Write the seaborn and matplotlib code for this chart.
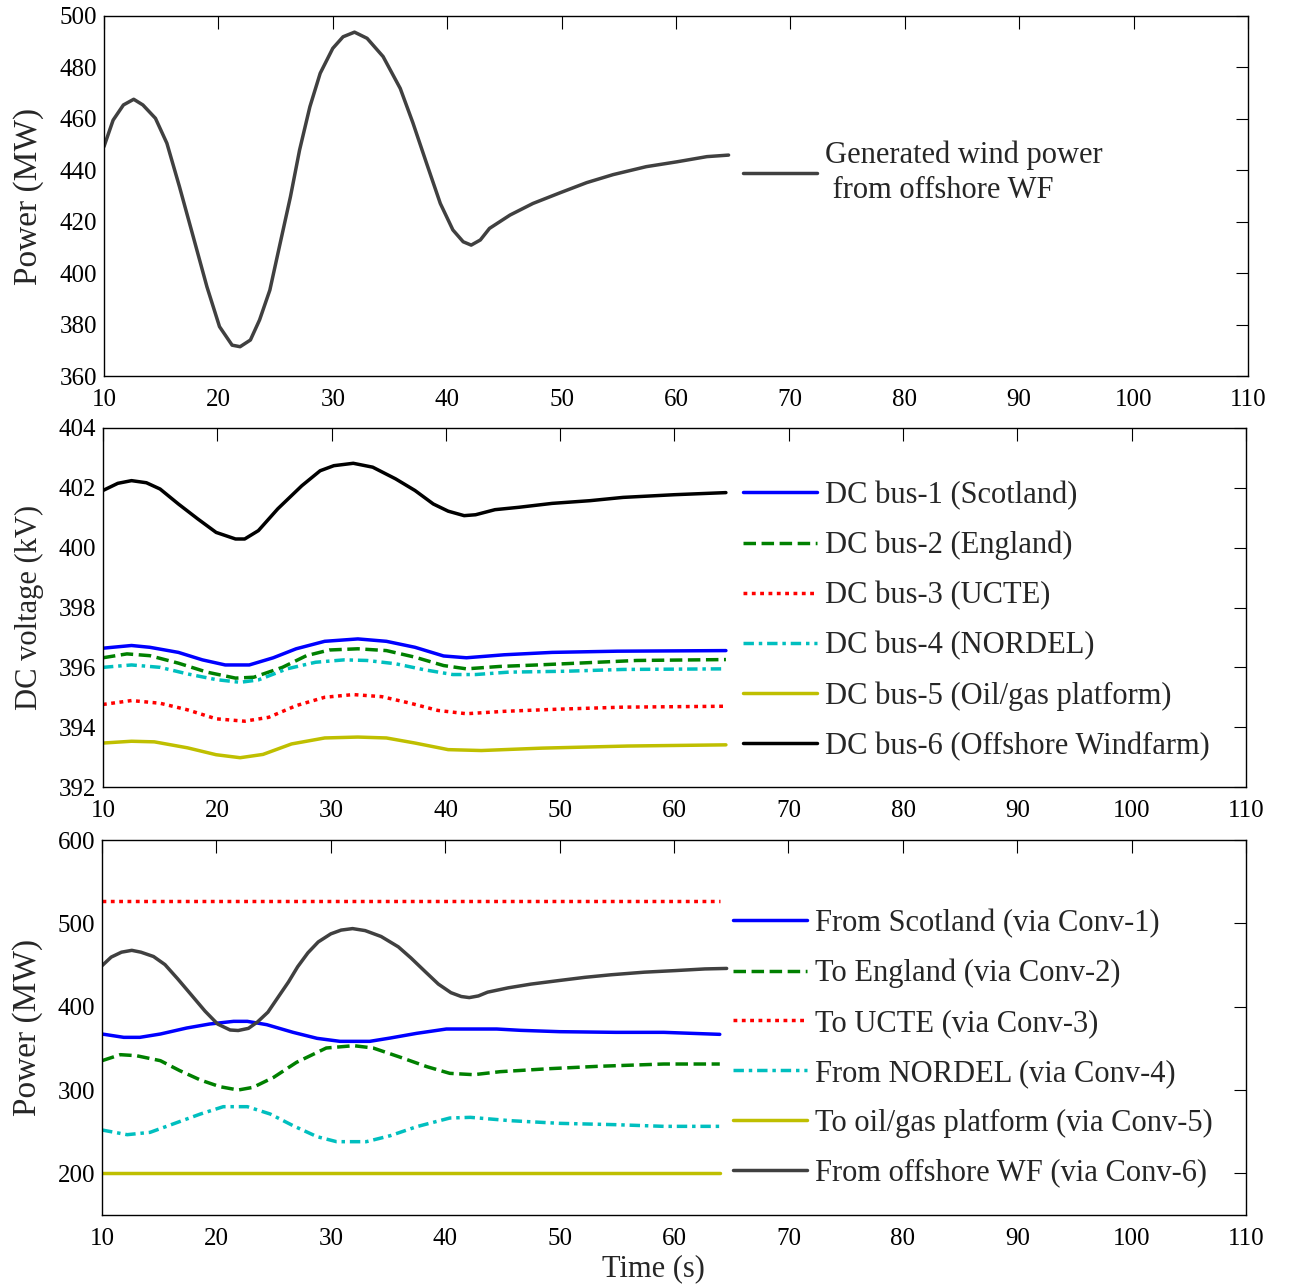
import matplotlib
matplotlib.use("Agg")
import matplotlib.pyplot as plt
import seaborn as sns

# ---------------- generated wind power from offshore WF (MW) ----------------
t_wind = [10.0, 10.8, 11.7, 12.6, 13.4, 14.5, 15.5, 16.6, 17.8, 19.0, 20.1, 21.2,
          21.9, 22.8, 23.6, 24.5, 25.4, 26.3, 27.1, 28.0, 28.9, 30.0, 30.9, 31.9,
          33.0, 34.4, 35.9, 37.0, 38.2, 39.4, 40.5, 41.4, 42.1, 42.9, 43.7, 45.5,
          47.5, 49.9, 52.2, 54.5, 57.4, 60.1, 62.7, 64.6]
p_wind = [449.2, 459.5, 465.4, 467.6, 465.4, 460.2, 450.5, 433.6, 414.2, 394.7, 379.2, 372.0,
          371.4, 374.0, 381.8, 393.4, 411.6, 429.7, 447.9, 464.7, 477.7, 487.4, 491.9, 493.7,
          491.3, 484.2, 471.8, 458.5, 442.7, 427.1, 416.8, 412.2, 410.9, 412.9, 417.4, 422.6,
          427.1, 431.3, 435.2, 438.3, 441.4, 443.3, 445.3, 445.9]

# ---------------- DC bus voltages (kV) ----------------
t_bus1 = [10.0, 12.5, 14.1, 16.6, 18.7, 20.7, 22.8, 24.9, 26.9, 29.4, 32.3, 34.8,
          37.3, 39.8, 41.8, 45.1, 49.3, 55.0, 64.5]
v_bus1 = [396.64, 396.73, 396.67, 396.50, 396.25, 396.08, 396.08, 396.32, 396.62, 396.87,
          396.95, 396.87, 396.67, 396.38, 396.32, 396.42, 396.50, 396.54, 396.56]

t_bus2 = [10.0, 12.1, 14.1, 16.6, 19.1, 21.6, 23.2, 25.7, 27.8, 29.8, 32.3, 34.8,
          37.3, 39.8, 41.8, 44.7, 48.0, 52.1, 56.7, 64.5]
v_bus2 = [396.32, 396.45, 396.39, 396.14, 395.84, 395.64, 395.67, 396.00, 396.39, 396.58,
          396.62, 396.56, 396.34, 396.06, 395.95, 396.03, 396.08, 396.15, 396.23, 396.26]

t_bus3 = [10.0, 12.5, 15.0, 17.4, 19.9, 22.4, 24.5, 26.9, 29.4, 31.9, 34.4, 36.9,
          39.3, 41.8, 45.1, 49.7, 55.5, 64.5]
v_bus3 = [394.76, 394.89, 394.80, 394.58, 394.28, 394.20, 394.33, 394.72, 395.00, 395.09,
          395.02, 394.80, 394.56, 394.45, 394.53, 394.60, 394.67, 394.70]

t_bus4 = [10.0, 12.5, 15.0, 17.4, 19.9, 22.0, 23.6, 26.1, 28.6, 31.1, 33.1, 35.6,
          38.1, 40.6, 42.6, 45.5, 50.5, 55.5, 64.5]
v_bus4 = [396.00, 396.08, 396.00, 395.78, 395.59, 395.50, 395.58, 395.95, 396.17, 396.25,
          396.23, 396.12, 395.92, 395.76, 395.76, 395.84, 395.87, 395.93, 395.95]

t_bus5 = [10.0, 12.5, 14.5, 17.4, 19.9, 22.0, 24.0, 26.5, 29.4, 32.3, 34.8, 37.3,
          40.2, 43.1, 48.4, 55.9, 64.5]
v_bus5 = [393.47, 393.53, 393.51, 393.31, 393.08, 392.98, 393.09, 393.44, 393.64, 393.67,
          393.64, 393.47, 393.25, 393.22, 393.30, 393.37, 393.41]

t_bus6 = [10.0, 11.3, 12.5, 13.8, 15.0, 16.6, 18.3, 19.9, 21.6, 22.4, 23.6, 25.3,
          27.4, 29.0, 30.2, 31.9, 33.6, 35.6, 37.3, 38.9, 40.2, 41.6, 42.6, 44.3,
          46.4, 49.3, 52.6, 55.5, 60.0, 64.5]
v_bus6 = [401.91, 402.15, 402.24, 402.17, 401.96, 401.46, 400.96, 400.51, 400.29, 400.29,
          400.57, 401.30, 402.07, 402.57, 402.74, 402.82, 402.69, 402.30, 401.91, 401.46,
          401.22, 401.07, 401.10, 401.27, 401.35, 401.48, 401.57, 401.68, 401.77, 401.84]

# ---------------- converter power flows (MW) ----------------
t_conv1 = [10.0, 11.9, 13.3, 15.1, 17.4, 19.4, 21.5, 22.7, 24.4, 26.7, 28.8, 30.8,
           33.4, 35.2, 37.5, 40.1, 44.5, 46.6, 50.0, 54.9, 59.1, 64.0]
p_conv1 = [367.2, 363.2, 363.2, 367.2, 374.4, 379.2, 382.4, 382.4, 378.4, 369.2, 362.0, 358.4,
           358.4, 362.4, 368.0, 373.2, 373.2, 371.6, 370.0, 369.2, 369.2, 366.8]

t_conv2 = [10.0, 11.6, 13.0, 15.1, 16.8, 18.6, 20.3, 21.9, 23.2, 25.0, 27.0, 29.6,
           32.0, 33.7, 36.1, 38.4, 40.4, 42.5, 44.8, 49.1, 53.3, 59.1, 64.0]
p_conv2 = [335.2, 342.4, 341.2, 335.2, 323.2, 312.0, 304.0, 300.0, 303.2, 315.2, 333.2, 350.4,
           353.2, 350.4, 339.2, 328.0, 320.0, 318.4, 322.0, 325.6, 328.4, 331.2, 331.2]

t_conv3 = [10.0, 64.0]
p_conv3 = [527.0, 527.0]

t_conv4 = [10.0, 12.2, 14.2, 16.2, 18.6, 20.6, 22.7, 24.7, 26.7, 28.8, 30.5, 33.1,
           35.2, 37.5, 40.4, 42.2, 45.7, 50.0, 54.9, 59.1, 64.0]
p_conv4 = [252.0, 246.4, 249.2, 259.2, 271.2, 280.0, 280.0, 271.2, 257.2, 244.0, 238.0, 238.0,
           245.2, 256.0, 266.4, 267.2, 263.2, 260.0, 258.4, 256.4, 256.4]

t_conv5 = [10.0, 64.0]
p_conv5 = [200.0, 200.0]

x_ticks = list(range(10, 111, 10))
y_ticks_top = list(range(360, 501, 20))
y_ticks_mid = list(range(392, 405, 2))
y_ticks_bot = list(range(200, 601, 100))

bus_labels = ["DC bus-1 (Scotland)", "DC bus-2 (England)", "DC bus-3 (UCTE)",
              "DC bus-4 (NORDEL)", "DC bus-5 (Oil/gas platform)", "DC bus-6 (Offshore Windfarm)"]
conv_labels = ["From Scotland (via Conv-1)", "To England (via Conv-2)", "To UCTE (via Conv-3)",
               "From NORDEL (via Conv-4)", "To oil/gas platform (via Conv-5)",
               "From offshore WF (via Conv-6)"]

# ---------------- styling ----------------
sns.set_style("white")
plt.rcParams["font.family"] = ["Liberation Serif", "DejaVu Serif"]
plt.rcParams["axes.linewidth"] = 1.0
plt.rcParams["axes.edgecolor"] = "black"

BLUE, GREEN, RED = "#0000ff", "#008000", "#ff0000"
CYAN, OLIVE, BLACK, GREY = "#00bfbf", "#bfbf00", "#000000", "#404040"
LW = 2.5
DOTTED = (0, (1.1, 1.3))
DASHED = (0, (3.6, 1.6))
DASHDOT = (0, (3.0, 1.4, 1.0, 1.4))

fig = plt.figure(figsize=(12.9, 12.86), dpi=100)
ax_top = fig.add_axes([0.0806, 0.7076, 0.8868, 0.2800])
ax_mid = fig.add_axes([0.0798, 0.3880, 0.8861, 0.2792])
ax_bot = fig.add_axes([0.0791, 0.0552, 0.8868, 0.2916])


def style_axes(ax, yticks, ylim, ylabel, ylabel_size):
    ax.set_xlim(10, 110)
    ax.set_xticks(x_ticks)
    ax.set_ylim(*ylim)
    ax.set_yticks(yticks)
    ax.tick_params(direction="in", length=9, width=0.8, top=True, right=True,
                   labelsize=18, colors="black")
    ax.tick_params(axis="y", pad=5)
    ax.tick_params(axis="x", pad=9)
    for s in ax.spines.values():
        s.set_visible(True)
        s.set_color("black")
        s.set_linewidth(1.0)
    ax.set_xlabel("")
    ax.set_ylabel(ylabel, fontsize=ylabel_size)
    ax.yaxis.set_label_coords(-0.052, 0.5)


def legend(ax, x, y):
    return ax.legend(loc="center left", bbox_to_anchor=(x, y), frameon=False,
                     fontsize=22, handlelength=2.42, handletextpad=0.27,
                     labelspacing=0.68, borderpad=0, borderaxespad=0)


# --- top: generated wind power ---
sns.lineplot(x=t_wind, y=p_wind, ax=ax_top, color=GREY, linewidth=LW,
             label="Generated wind power\n from offshore WF")
style_axes(ax_top, y_ticks_top, (360, 500), "Power (MW)", 24)
leg = legend(ax_top, 0.5586, 0.565)
for txt in leg.get_texts():
    txt.set_linespacing(1.25)

# --- middle: DC bus voltages ---
bus_series = [
    (t_bus1, v_bus1, BLUE, "-"),
    (t_bus2, v_bus2, GREEN, DASHED),
    (t_bus3, v_bus3, RED, DOTTED),
    (t_bus4, v_bus4, CYAN, DASHDOT),
    (t_bus5, v_bus5, OLIVE, "-"),
    (t_bus6, v_bus6, BLACK, "-"),
]
for (tt, vv, col, ls), lab in zip(bus_series, bus_labels):
    sns.lineplot(x=tt, y=vv, ax=ax_mid, color=col, linewidth=LW, linestyle=ls, label=lab)
style_axes(ax_mid, y_ticks_mid, (392, 404), "DC voltage (kV)", 22)
legend(ax_mid, 0.560, 0.463)

# --- bottom: converter power flows ---
conv_series = [
    (t_conv1, p_conv1, BLUE, "-"),
    (t_conv2, p_conv2, GREEN, DASHED),
    (t_conv3, p_conv3, RED, DOTTED),
    (t_conv4, p_conv4, CYAN, DASHDOT),
    (t_conv5, p_conv5, OLIVE, "-"),
    (t_wind, p_wind, GREY, "-"),
]
for (tt, pp, col, ls), lab in zip(conv_series, conv_labels):
    sns.lineplot(x=tt, y=pp, ax=ax_bot, color=col, linewidth=LW, linestyle=ls, label=lab)
style_axes(ax_bot, y_ticks_bot, (150, 600), "Power (MW)", 24)
ax_bot.set_xlabel("Time (s)", fontsize=22)
ax_bot.xaxis.set_label_coords(0.4816, -0.105)
legend(ax_bot, 0.5516, 0.4453)

fig.savefig("out.png", dpi=100)
